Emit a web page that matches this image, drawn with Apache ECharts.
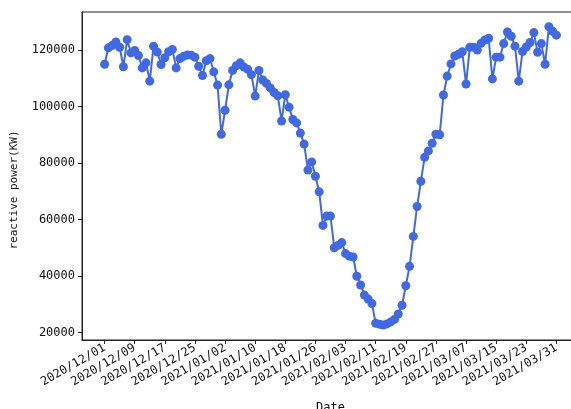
<!DOCTYPE html>
<html>
<head>
<meta charset="utf-8">
<script src="https://cdn.jsdelivr.net/npm/echarts@6/dist/echarts.min.js"></script>
<style>
  html, body { margin: 0; padding: 0; background: #fff; }
  #chart { width: 571px; height: 409px; }
</style>
</head>
<body>
<div id="chart"></div>
<script>
// daily reactive power, 2020/12/01 .. 2021/03/31
var startDate = '2020-12-01';
var dayCount = 121;
var power = [
  115000, 120800, 121600, 122900, 121000, 114100, 123700, 119000, 119900, 118100,
  113700, 115500, 109000, 121400, 119300, 114900, 117300, 119400, 120200, 113700,
  117000, 117800, 118300, 118200, 117500, 114300, 111000, 116200, 117000, 112300,
  107600, 90200, 98700, 107700, 112800, 114500, 115500, 114000, 113200, 111300,
  103700, 112800, 109400, 108200, 106600, 105000, 103800, 94900, 104200, 99800,
  95400, 94200, 90600, 86700, 77500, 80400, 75300, 69800, 57900, 61200,
  61200, 50000, 50800, 51800, 47900, 47000, 46700, 39900, 36800, 33200,
  31800, 30200, 23200, 22900, 22600, 23000, 23700, 24600, 26500, 29600,
  36500, 43400, 54000, 64600, 73500, 82000, 84300, 87000, 90200, 90000,
  104100, 110800, 115100, 117900, 118500, 119400, 108000, 121000, 121000, 120000,
  122400, 123600, 124200, 109800, 117500, 117500, 122300, 126400, 124900, 121400,
  109000, 119500, 121100, 122700, 126200, 119200, 122300, 115000, 128300, 126700,
  125300
];
var tickLabels = ['2020/12/01', '2020/12/09', '2020/12/17', '2020/12/25', '2021/01/02',
  '2021/01/10', '2021/01/18', '2021/01/26', '2021/02/03', '2021/02/11', '2021/02/19',
  '2021/02/27', '2021/03/07', '2021/03/15', '2021/03/23', '2021/03/31'];
var yTicks = [20000, 40000, 60000, 80000, 100000, 120000];

function pad(n) { return n < 10 ? '0' + n : '' + n; }
var dates = [];
var d0 = new Date(startDate + 'T00:00:00Z');
for (var i = 0; i < dayCount; i++) {
  var d = new Date(d0.getTime() + i * 86400000);
  dates.push(d.getUTCFullYear() + '/' + pad(d.getUTCMonth() + 1) + '/' + pad(d.getUTCDate()));
}
var tickDays = tickLabels.map(function (s) { return dates.indexOf(s); });

var font = 'DejaVu Sans Mono';
var chart = echarts.init(document.getElementById('chart'));
var option = {
  animation: false,
  backgroundColor: '#fff',
  grid: {
    left: 82, top: 12, width: 497, height: 328,
    outerBoundsMode: 'none',
    show: true, borderColor: '#222', borderWidth: 1, backgroundColor: '#fff'
  },
  xAxis: {
    type: 'value',
    min: -6,
    max: 126,
    name: 'Date',
    nameLocation: 'middle',
    nameGap: 62,
    nameTextStyle: { fontFamily: font, fontSize: 12, color: '#111' },
    axisLine: { onZero: false, lineStyle: { color: '#222', width: 1 } },
    axisTick: { customValues: tickDays, length: 4, lineStyle: { color: '#222' } },
    axisLabel: {
      customValues: tickDays,
      rotate: 30,
      margin: 7,
      fontFamily: font,
      fontSize: 12,
      color: '#111',
      formatter: function (v) { return dates[v]; }
    },
    splitLine: { show: false }
  },
  yAxis: {
    type: 'value',
    min: 17300,
    max: 133500,
    name: 'reactive power(KW)',
    nameLocation: 'middle',
    nameGap: 62,
    nameTextStyle: { fontFamily: font, fontSize: 11, color: '#111', padding: [0, 28, 0, 0] },
    axisLine: { show: true, onZero: false, lineStyle: { color: '#222', width: 1 } },
    axisTick: { show: true, customValues: yTicks, length: 4, lineStyle: { color: '#222' } },
    axisLabel: {
      customValues: yTicks,
      margin: 7,
      fontFamily: font,
      fontSize: 12,
      color: '#111',
      formatter: function (v) { return String(v); }
    },
    splitLine: { show: false }
  },
  series: [{
    type: 'line',
    data: power.map(function (v, i) { return [i, v]; }),
    color: '#4169E1',
    symbol: 'circle',
    symbolSize: 9,
    showAllSymbol: true,
    lineStyle: { width: 2, color: '#4169E1' },
    itemStyle: { color: '#4169E1' }
  }]
};
chart.setOption(option);
</script>
</body>
</html>
